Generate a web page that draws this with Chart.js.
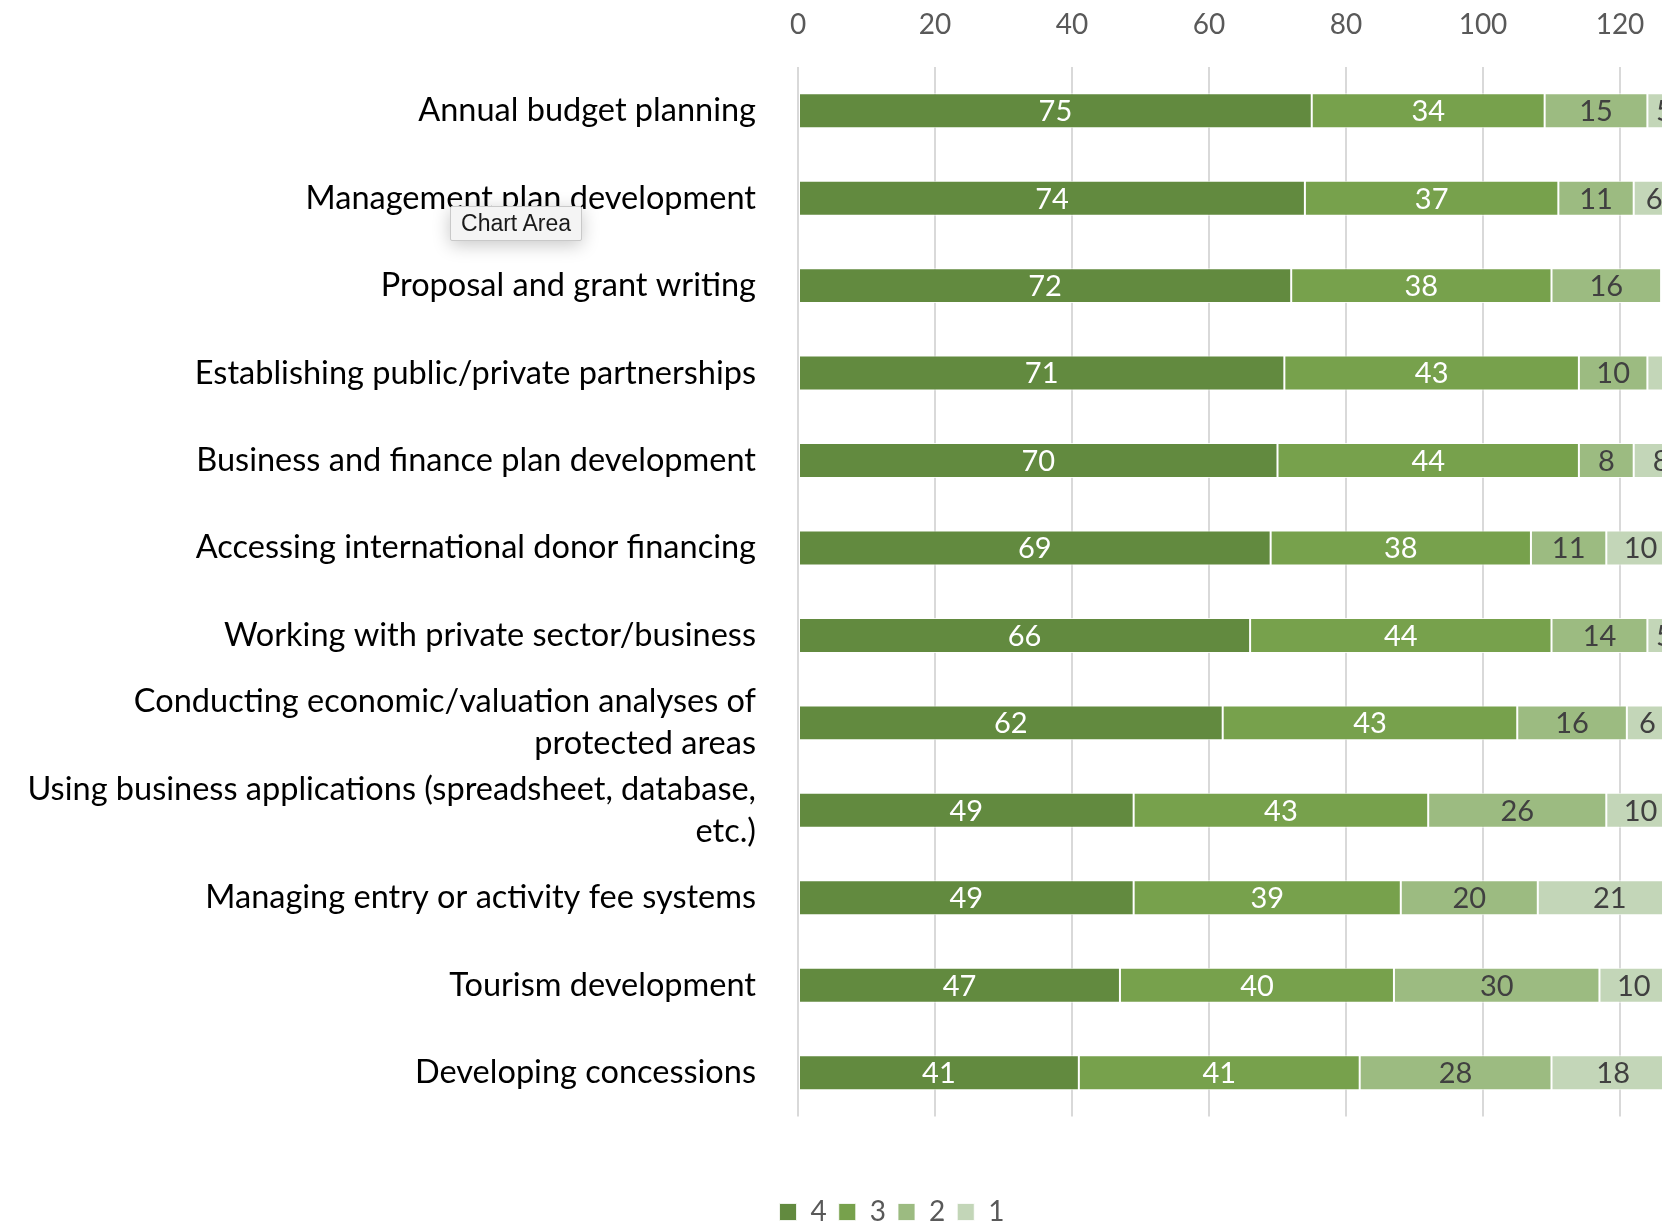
<!DOCTYPE html>
<html>
<head>
<meta charset="utf-8">
<script src="https://cdn.jsdelivr.net/npm/chart.js@4.4.1/dist/chart.umd.min.js"></script>
<style>
  html, body { margin: 0; padding: 0; background: #fff; overflow: hidden; }
  #wrap { position: relative; width: 1781px; height: 1236px; }
  #tip {
    position: absolute; left: 450px; top: 206px; width: 130px; height: 33px;
    background: #f4f4f4; border: 1px solid #c9c9c9; border-radius: 2px;
    box-shadow: 0 4px 18px rgba(0,0,0,0.22);
    font: 23px "Liberation Sans", Arial, sans-serif; color: #1a1a1a;
    line-height: 33px; text-align: center;
  }
</style>
</head>
<body>
<div id="wrap">
  <canvas id="chart" width="1781" height="1236"></canvas>
  <div id="tip">Chart Area</div>
</div>
<script>
const categories = [
  "Annual budget planning",
  "Management plan development",
  "Proposal and grant writing",
  "Establishing public/private partnerships",
  "Business and finance plan development",
  "Accessing international donor financing",
  "Working with private sector/business",
  ["Conducting economic/valuation analyses of", "protected areas"],
  ["Using business applications (spreadsheet, database,", "etc.)"],
  "Managing entry or activity fee systems",
  "Tourism development",
  "Developing concessions"
];
const level4 = [75, 74, 72, 71, 70, 69, 66, 62, 49, 49, 47, 41];
const level3 = [34, 37, 38, 43, 44, 38, 44, 43, 43, 39, 40, 41];
const level2 = [15, 11, 16, 10, 8, 11, 14, 16, 26, 20, 30, 28];
const level1 = [5, 6, 4, 7, 8, 10, 5, 6, 10, 21, 10, 18];
const xTicks = [0, 20, 40, 60, 80, 100, 120, 140];

const FONT = "Lato";

// value labels centred on every segment
const barLabels = {
  id: "barLabels",
  afterDatasetsDraw(chart) {
    const ctx = chart.ctx;
    ctx.save();
    ctx.font = "29px " + FONT;
    ctx.textAlign = "center";
    ctx.textBaseline = "middle";
    chart.data.datasets.forEach((ds, i) => {
      chart.getDatasetMeta(i).data.forEach((bar, j) => {
        ctx.fillStyle = ds.labelColor;
        ctx.fillText(ds.data[j], (bar.x + bar.base) / 2, bar.y + 1);
      });
    });
    ctx.restore();
  }
};

function series(label, data, color, labelColor) {
  return {
    label: label,
    data: data,
    backgroundColor: color,
    borderColor: "rgba(255,255,255,0.8)",
    borderWidth: 1,
    borderSkipped: false,
    labelColor: labelColor,
    barPercentage: 1,
    categoryPercentage: 0.4
  };
}

new Chart(document.getElementById("chart"), {
  type: "bar",
  data: {
    labels: categories,
    datasets: [
      series("4", level4, "#628a3f", "#ffffff"),
      series("3", level3, "#77a14c", "#ffffff"),
      series("2", level2, "#9cbb81", "#404040"),
      series("1", level1, "#c3d6b8", "#404040")
    ]
  },
  options: {
    indexAxis: "y",
    responsive: false,
    animation: false,
    layout: { padding: { top: 6, right: 24, left: 27, bottom: 0 } },
    scales: {
      x: {
        position: "top",
        stacked: true,
        min: 0,
        max: 140,
        afterBuildTicks: axis => { axis.ticks = xTicks.map(v => ({ value: v })); },
        afterFit: scale => { scale.height = 61; scale.paddingLeft = 0; scale.paddingRight = 0; },
        grid: { color: "#d9d9d9", lineWidth: 2, drawTicks: false },
        border: { display: false },
        ticks: { color: "#595959", font: { family: FONT, size: 28 }, padding: 25 }
      },
      y: {
        stacked: true,
        afterFit: scale => { scale.width = 771; scale.paddingTop = 0; scale.paddingBottom = 0; },
        grid: { display: false, drawTicks: false },
        border: { display: false },
        ticks: {
          autoSkip: false,
          color: "#000000",
          font: { family: FONT, size: 32.5, lineHeight: 1.3 },
          padding: 42
        }
      }
    },
    plugins: {
      tooltip: { enabled: false },
      legend: {
        position: "bottom",
        title: { display: true, text: "", padding: 0, font: { size: 58 } },
        labels: {
          boxWidth: 17,
          boxHeight: 17,
          padding: 12,
          color: "#595959",
          font: { family: FONT, size: 28 }
        }
      }
    }
  },
  plugins: [barLabels]
});
</script>
</body>
</html>
